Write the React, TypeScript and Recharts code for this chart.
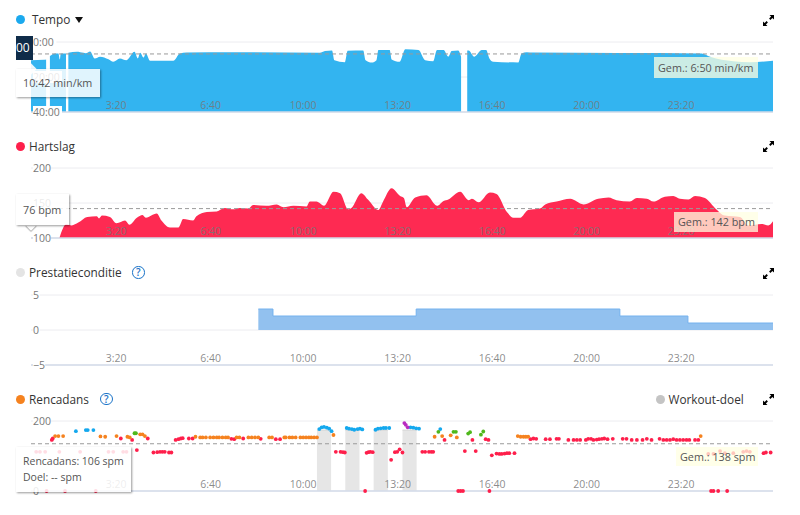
import React from "react";
import {
  ComposedChart,
  Area,
  Scatter,
  XAxis,
  YAxis,
  CartesianGrid,
  ReferenceLine,
} from "recharts";

const FONT = "'Open Sans', sans-serif";
const DOMAIN_X: [number, number] = [20, 1590];

const tickSeconds = [200, 400, 600, 800, 1000, 1200, 1400];
const tickLabels = ["3:20", "6:40", "10:00", "13:20", "16:40", "20:00", "23:20"];

// Tempo (minutes per km)
const tempoSeconds = [
  20, 48, 52, 55, 60, 71, 78, 81, 83, 88, 94, 96, 99, 117, 131, 136, 145, 155, 166, 184, 194, 208, 222, 239, 246, 251,
  258, 263, 272, 321, 335, 349, 448, 631, 642, 657, 662, 684, 690, 723, 728, 741, 751, 755, 779, 783, 800, 812, 840,
  854, 871, 879, 893, 903, 910, 924, 930, 936, 943, 946, 958, 974, 983, 990, 998, 1051, 1058, 1069, 1083, 1439, 1457,
  1506, 1541, 1590,
];
const tempoValues = [
  10.4, 10.2, 10.0, null, 8.0, 6.5, 6.5, 10, 6.5, 6.5, 6.5, null, 6.2, 5.6, 6.2, 6.4, 5.4, 9.4, 8.4, 9.9, 11.3, 9.4,
  10.4, 5.6, 9.4, 6.2, 8.9, 6.5, 10.7, 10.7, 6.5, 6.0, 5.8, 6.2, 5.2, 4.8, 10.4, 11.5, 5.0, 4.8, 10.4, 11.7, 10.4, 4.6,
  4.6, 10, 11.3, 4.2, 4.6, 10.4, 11, 4.6, 4.6, 8.4, 5.2, 4.8, 8.4, null, 4.8, 4.8, 8.4, 4.6, 4.6, 9.4, 11.3, 11.7, 6.5,
  5.8, 6.0, 6.5, 8.4, 11, 11.5, 10.7,
];
const tempoTicks = [0, 20, 40];
const tempoTickLabels = ["0:00", "20:00", "40:00"];
const tempoAverage = 6.83;

// Hartslag (bpm)
const heartSeconds = [
  80, 95, 106, 120, 139, 159, 164, 170, 187, 201, 219, 228, 244, 256, 263, 286, 296, 314, 332, 342, 363, 370, 392, 413,
  430, 448, 462, 480, 490, 518, 540, 554, 575, 603, 610, 624, 640, 660, 674, 691, 698, 719, 733, 755, 765, 783, 801,
  809, 815, 833, 857, 879, 893, 903, 928, 946, 953, 967, 991, 1005, 1027, 1041, 1055, 1072, 1097, 1108, 1132, 1161,
  1189, 1220, 1242, 1259, 1287, 1302, 1323, 1337, 1361, 1379, 1393, 1411, 1425, 1446, 1467, 1488, 1520, 1538, 1566,
  1580, 1590,
];
const heartValues = [
  100, 120, 118, 122, 130, 131, 128, 132, 130, 121, 125, 119, 129, 133, 129, 135, 125, 115, 115, 127, 125, 131, 137,
  138, 143, 141, 143, 142, 147, 146, 148, 144, 146, 145, 152, 152, 146, 166, 164, 141, 143, 164, 155, 140, 152, 171,
  160, 157, 144, 158, 161, 146, 153, 155, 166, 154, 156, 151, 165, 163, 137, 129, 129, 140, 142, 148, 152, 156, 148,
  156, 158, 154, 152, 157, 156, 152, 159, 160, 156, 155, 160, 157, 143, 132, 130, 118, 120, 118, 124,
];
const heartTicks = [100, 150, 200];
const heartAverage = 142;

// Prestatieconditie
const conditionSeconds = [501, 532, 835, 1266, 1410, 1590];
const conditionValues = [3, 2, 3, 2, 1, 1];
const conditionTicks = [-5, 0, 5];

// Rencadans (spm), per colour zone
const redSeconds = [
  31, 39, 50, 53, 64, 66, 80, 92, 124, 157, 184, 194, 210, 215, 222, 234, 244, 267, 279, 287, 293, 298, 303, 312, 317,
  326, 332, 337, 341, 354, 362, 444, 450, 469, 506, 538, 547, 665, 675, 680, 684, 727, 730, 734, 738, 743, 782, 790,
  795, 800, 806, 848, 854, 862, 867, 871, 895, 924, 929, 934, 938, 954, 961, 982, 988, 990, 995, 1005, 1011, 1016,
  1022, 1027, 1032, 1043, 1077, 1083, 1089, 1109, 1118, 1132, 1137, 1157, 1168, 1175, 1182, 1194, 1199, 1205, 1210,
  1217, 1222, 1228, 1233, 1240, 1251, 1272, 1280, 1291, 1302, 1314, 1323, 1333, 1350, 1358, 1365, 1372, 1379, 1386,
  1393, 1400, 1407, 1413, 1425, 1432, 1453, 1459, 1464, 1464, 1474, 1478, 1488, 1493, 1506, 1527, 1534, 1541, 1570,
  1575, 1585,
];
const redValues = [
  112, 112, 112, 0, 146, 150, 112, 0, 112, 0, 112, 112, 150, 112, 112, 146, 117, 150, 110, 111, 112, 112, 112, 110, 110,
  146, 148, 150, 151, 150, 150, 149, 148, 150, 149, 148, 148, 112, 112, 111, 110, 0, 109, 111, 112, 111, 89, 111, 112,
  119, 110, 112, 112, 112, 112, 112, 146, 0, 0, 0, 114, 146, 114, 148, 146, 0, 102, 107, 106, 106, 107, 108, 108, 108,
  148, 150, 149, 148, 148, 149, 149, 146, 146, 146, 146, 146, 149, 149, 146, 147, 148, 149, 150, 148, 149, 149, 149,
  146, 146, 146, 149, 146, 149, 146, 146, 146, 148, 146, 146, 146, 146, 146, 146, 146, 106, 0, 106, 0, 0, 114, 108, 0,
  108, 112, 114, 112, 108, 110, 110,
];
const orangeSeconds = [
  71, 78, 88, 167, 177, 201, 224, 229, 251, 256, 261, 368, 378, 383, 390, 399, 406, 413, 418, 425, 432, 437, 455, 461,
  480, 487, 494, 501, 524, 530, 556, 559, 567, 573, 580, 590, 596, 602, 608, 613, 619, 625, 660, 874, 890, 908, 921,
  1050, 1056, 1062, 1067, 1072, 1437,
];
const orangeValues = [
  157, 157, 157, 156, 155, 157, 155, 153, 162, 162, 157, 155, 153, 153, 153, 153, 153, 153, 153, 153, 153, 153, 153,
  153, 153, 153, 153, 153, 153, 153, 153, 153, 153, 153, 153, 153, 153, 153, 153, 153, 153, 153, 160, 155, 157, 159,
  153, 157, 155, 155, 155, 155, 157,
];
const blueSeconds = [
  115, 136, 140, 152, 630, 635, 640, 646, 651, 656, 688, 693, 699, 704, 711, 716, 721, 749, 754, 760, 766, 771, 778,
  823, 829, 835, 841, 886,
];
const blueValues = [
  171, 174, 174, 174, 177, 182, 183, 181, 178, 171, 180, 178, 177, 175, 177, 178, 176, 175, 178, 179, 180, 180, 180,
  182, 181, 179, 178, 177,
];
const greenSeconds = [239, 242, 882, 914, 919, 945, 949, 972, 977];
const greenValues = [165, 165, 169, 169, 169, 164, 168, 161, 170];
const purpleSeconds = [810, 813, 817];
const purpleValues = [194, 189, 182];
const goalSeconds = [625, 655, 670, 685, 715, 730, 745, 775, 790, 806, 836, 850];
const goalValues = [174, 174, null, 174, 174, null, 174, 174, null, 174, 174, null];
const cadenceTicks = [0, 200];
const cadenceAverage = 135;

const toRows = (xs: number[], ys: (number | null)[]) => xs.map((t, i) => ({ t, v: ys[i] }));

const XTick = (props: any) => {
  const label = tickLabels[tickSeconds.indexOf(props.payload.value)];
  return (
    <text x={props.x - (label.length > 4 ? 2 : 0)} y={props.y - 7} textAnchor="middle" dominantBaseline="central" fontFamily={FONT} fontSize={10.5} fill="#777" fillOpacity={0.85}>
      {label}
    </text>
  );
};

const yTick = (fmt: (v: number) => string) => (props: any) => {
  const label = fmt(props.payload.value);
  const w = label.length * 5.6 + 1;
  return (
    <g>
      <rect x={33} y={props.y - 6} width={w} height={12} fill="#fff" />
      <text x={33} y={props.y} dominantBaseline="central" fontFamily={FONT} fontSize={10.5} fill="#777">
        {label}
      </text>
    </g>
  );
};

function Frame(props: {
  top: number;
  domain: [number, number];
  ticks: number[];
  reversed?: boolean;
  fmt: (v: number) => string;
  children: React.ReactNode;
}) {
  return (
    <div style={{ position: "absolute", left: 0, top: props.top - 10 }}>
      <ComposedChart width={800} height={90} margin={{ top: 10, right: 27, bottom: 6, left: 0 }}>
        <CartesianGrid horizontal vertical={false} stroke="#ececf0" />
        <XAxis
          dataKey="t"
          type="number"
          domain={DOMAIN_X}
          allowDataOverflow
          ticks={tickSeconds}
          height={4}
          tickLine={false}
          tickSize={0}
          tickMargin={0}
          axisLine={{ stroke: "#d3dbea", strokeWidth: 1.5 }}
          tick={XTick}
          interval={0}
        />
        <YAxis
          type="number"
          width={31}
          domain={props.domain}
          ticks={props.ticks}
          reversed={props.reversed}
          axisLine={false}
          tickLine={false}
          tick={yTick(props.fmt)}
          interval={0}
        />
        {props.children}
      </ComposedChart>
    </div>
  );
}

const dot = (color: string) => (p: any) => <circle cx={p.cx} cy={p.cy} r={1.9} fill={color} />;

const avgLine = (y: number) => (
  <ReferenceLine y={y} stroke="#9a9a9a" strokeDasharray="4 3" strokeWidth={1} />
);

const Expand = ({ top }: { top: number }) => (
  <svg style={{ position: "absolute", left: 763, top }} width={11} height={11} viewBox="0 0 11 11">
    <path d="M6.5 0H11V4.5L9.4 2.9 7.4 4.9 6.1 3.6 8.1 1.6Z M0 11V6.5L1.6 8.1 3.6 6.1 4.9 7.4 2.9 9.4 4.5 11Z" fill="#000" />
  </svg>
);

const Help = ({ left, top }: { left: number; top: number }) => (
  <div
    style={{
      position: "absolute",
      left,
      top,
      width: 10.5,
      height: 10.5,
      border: "1.5px solid #1a73c8",
      borderRadius: "50%",
      color: "#1a73c8",
      fontFamily: FONT,
      fontSize: 10,
      fontWeight: 600,
      lineHeight: "10.5px",
      textAlign: "center",
    }}
  >
    ?
  </div>
);

const Title = ({ text, color, top, left = 16, gap = 13 }: { text: string; color: string; top: number; left?: number; gap?: number }) => (
  <>
    <div style={{ position: "absolute", left, top: top - 4.5, width: 9, height: 9, borderRadius: "50%", background: color }} />
    <div
      style={{
        position: "absolute",
        left: left + gap,
        top: top - 10,
        height: 20,
        lineHeight: "20px",
        fontFamily: FONT,
        fontSize: 11.8,
        color: "#333",
        whiteSpace: "nowrap",
      }}
    >
      {text}
    </div>
  </>
);

const boxText: React.CSSProperties = {
  position: "absolute",
  fontFamily: FONT,
  color: "#555",
  whiteSpace: "nowrap",
  boxSizing: "border-box",
};

const Average = ({ text, left, top, width, height }: { text: string; left: number; top: number; width: number; height: number }) => (
  <div
    style={{
      ...boxText,
      fontSize: 10.8,
      left,
      top,
      width,
      height,
      lineHeight: `${height}px`,
      paddingLeft: 4,
      background: "rgba(255,255,225,0.75)",
    }}
  >
    {text}
  </div>
);

const Tip = ({ lines, left, top, width, height, size = 10.8, padTop = 6 }: { lines: string[]; left: number; top: number; width: number; height: number; size?: number; padTop?: number }) => (
  <div
    style={{
      ...boxText,
      fontSize: size,
      left,
      top,
      width,
      height,
      padding: `${padTop}px 0 0 7px`,
      lineHeight: "15.5px",
      background: "rgba(255,255,255,0.85)",
      boxShadow: "1px 1px 2px rgba(0,0,0,0.4)",
    }}
  >
    {lines.map((l) => (
      <div key={l}>{l}</div>
    ))}
  </div>
);

export default function App() {
  return (
    <div style={{ position: "fixed", left: 0, top: 0, width: 800, height: 515, background: "#fff", overflow: "hidden" }}>
      <Title text="Tempo" color="#1ba9ee" top={19} gap={16} />
      <div style={{ position: "absolute", left: 75, top: 17, width: 0, height: 0, borderLeft: "4px solid transparent", borderRight: "4px solid transparent", borderTop: "6px solid #111" }} />
      <Expand top={15} />
      <Frame top={42} domain={[0, 40]} ticks={tempoTicks} reversed fmt={(v) => tempoTickLabels[tempoTicks.indexOf(v)]}>
        {avgLine(tempoAverage)}
        <Area data={toRows(tempoSeconds, tempoValues)} dataKey="v" baseValue={40} type="monotone" fill="#33b4f0" fillOpacity={1} stroke="none" isAnimationActive={false} />
      </Frame>
      <Average text="Gem.: 6:50 min/km" left={654} top={57} width={104} height={21} />
      <div style={{ position: "absolute", left: 16, top: 36, width: 17, height: 24, background: "#0f2c49", color: "#fff", fontFamily: FONT, fontSize: 12, lineHeight: "24px", overflow: "hidden" }}>00</div>
      <div style={{ position: "absolute", left: 27, top: 65, width: 8, height: 8, background: "rgba(255,255,255,0.9)", transform: "rotate(45deg)" }} />
      <Tip lines={["10:42 min/km"]} left={16} top={69} width={84} height={28} />

      <Title text="Hartslag" color="#fe1f4b" top={146} />
      <Expand top={141} />
      <Frame top={168.3} domain={[100, 200]} ticks={heartTicks} fmt={(v) => String(v)}>
        {avgLine(heartAverage)}
        <Area data={toRows(heartSeconds, heartValues)} dataKey="v" baseValue={100} type="monotone" fill="#fe2a52" fillOpacity={1} stroke="none" isAnimationActive={false} />
      </Frame>
      <Average text="Gem.: 142 bpm" left={674} top={212} width={84} height={20} />
      <div style={{ position: "absolute", left: 27, top: 221, width: 8, height: 8, background: "#fff", boxShadow: "1px 1px 1px rgba(0,0,0,0.3)", transform: "rotate(45deg)" }} />
      <Tip lines={["76 bpm"]} left={16} top={194} width={53} height={31} padTop={8} />

      <Title text="Prestatieconditie" color="#e4e4e4" top={272} />
      <Help left={132} top={266} />
      <Expand top={268} />
      <Frame top={295} domain={[-5, 5]} ticks={conditionTicks} fmt={(v) => (v < 0 ? "\u2212" + Math.abs(v) : String(v))}>
        <Area data={toRows(conditionSeconds, conditionValues)} dataKey="v" type="stepAfter" fill="#92c1ef" fillOpacity={1} stroke="#74b2ee" strokeWidth={1} isAnimationActive={false} />
      </Frame>

      <Title text="Rencadans" color="#f5821f" top={399} />
      <Help left={100} top={392.5} />
      <Title text="Workout-doel" color="#c4c4c4" top={399} left={655.5} />
      <Expand top={394} />
      <Frame top={421} domain={[0, 200]} ticks={cadenceTicks} fmt={(v) => String(v)}>
        {avgLine(cadenceAverage)}
        <Area data={toRows(goalSeconds, goalValues)} dataKey="v" baseValue={0} type="linear" fill="#e6e6e6" fillOpacity={1} stroke="#d6d6d6" strokeWidth={1} isAnimationActive={false} />
        <Scatter data={toRows(redSeconds, redValues)} dataKey="v" shape={dot("#fe1f4b")} isAnimationActive={false} />
        <Scatter data={toRows(orangeSeconds, orangeValues)} dataKey="v" shape={dot("#f5821f")} isAnimationActive={false} />
        <Scatter data={toRows(blueSeconds, blueValues)} dataKey="v" shape={dot("#14a8ee")} isAnimationActive={false} />
        <Scatter data={toRows(greenSeconds, greenValues)} dataKey="v" shape={dot("#4fb81b")} isAnimationActive={false} />
        <Scatter data={toRows(purpleSeconds, purpleValues)} dataKey="v" shape={dot("#b92ac0")} isAnimationActive={false} />
      </Frame>
      <Average text="Gem.: 138 spm" left={676} top={447} width={82} height={19} />
      <Tip lines={["Rencadans: 106 spm", "Doel: -- spm"]} left={16} top={447} width={115} height={45} size={10.5} padTop={7} />
    </div>
  );
}
